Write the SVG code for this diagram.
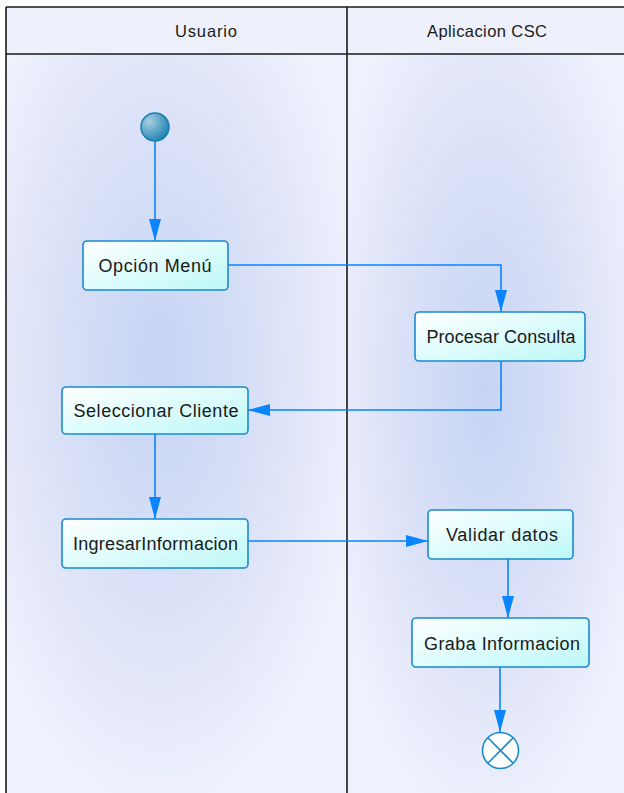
<svg xmlns="http://www.w3.org/2000/svg" width="624" height="793" viewBox="0 0 624 793">
  <style>
    .lbl { font-family: "Liberation Sans", Arial, sans-serif; font-size: 18px; fill: #1a1a1a; text-anchor: middle; }
    .hdr { font-size: 16.5px; }
    .act { fill: url(#actFill); stroke: #1a8acb; stroke-width: 1.6; }
    .flow { fill: none; stroke: #0a84ff; stroke-width: 1.6; }
    .lane { stroke: #1a1a1a; stroke-width: 1.6; fill: none; }
  </style>
  <defs>
    <linearGradient id="actFill" x1="0" y1="0" x2="1" y2="1">
      <stop offset="0" stop-color="#ffffff"/>
      <stop offset="1" stop-color="#bdf8f8"/>
    </linearGradient>
    <radialGradient id="laneL" cx="0.45" cy="0.42" r="0.6">
      <stop offset="0" stop-color="#c6d4f3"/>
      <stop offset="0.6" stop-color="#dde3f8"/>
      <stop offset="1" stop-color="#eff1fc"/>
    </radialGradient>
    <radialGradient id="laneR" cx="0.5" cy="0.45" r="0.6">
      <stop offset="0" stop-color="#c6d4f3"/>
      <stop offset="0.6" stop-color="#dde3f8"/>
      <stop offset="1" stop-color="#eff1fc"/>
    </radialGradient>
    <radialGradient id="startFill" cx="0.3" cy="0.3" r="0.8">
      <stop offset="0" stop-color="#a8cfe0"/>
      <stop offset="1" stop-color="#1a7fb0"/>
    </radialGradient>
    <marker id="arrow" viewBox="0 0 22 12" refX="22" refY="6" markerWidth="22" markerHeight="12" markerUnits="userSpaceOnUse" orient="auto">
      <path d="M0,0 L22,6 L0,12 Z" fill="#0a84ff"/>
    </marker>
  </defs>

  <!-- swimlanes -->
  <g id="lanes">
    <rect x="0" y="0" width="624" height="793" fill="#ffffff"/>
    <rect x="6" y="7" width="618" height="47" fill="#eef0fc"/>
    <rect x="6" y="54" width="341" height="739" fill="url(#laneL)"/>
    <rect x="347" y="54" width="277" height="739" fill="url(#laneR)"/>
    <line class="lane" x1="6" y1="7" x2="624" y2="7"/>
    <line class="lane" x1="6" y1="54" x2="624" y2="54"/>
    <line class="lane" x1="6" y1="7" x2="6" y2="793"/>
    <line class="lane" x1="347" y1="7" x2="347" y2="793"/>
    <text class="lbl hdr" x="206" y="37" textLength="62" lengthAdjust="spacing">Usuario</text>
    <text class="lbl hdr" x="487" y="37" textLength="120" lengthAdjust="spacing">Aplicacion CSC</text>
  </g>

  <!-- connectors -->
  <g id="connectors">
    <path class="flow" d="M155,141 L155,241" marker-end="url(#arrow)"/>
    <path class="flow" d="M228,265 L501,265 L501,312" marker-end="url(#arrow)"/>
    <path class="flow" d="M501,361 L501,410 L248,410" marker-end="url(#arrow)"/>
    <path class="flow" d="M155,434 L155,519" marker-end="url(#arrow)"/>
    <path class="flow" d="M248,541 L428,541" marker-end="url(#arrow)"/>
    <path class="flow" d="M508,559 L508,618" marker-end="url(#arrow)"/>
    <path class="flow" d="M500,667 L500,732" marker-end="url(#arrow)"/>
  </g>

  <!-- nodes -->
  <g id="start">
    <circle cx="155" cy="127" r="14" fill="url(#startFill)" stroke="#1a7fb0" stroke-width="1.5"/>
  </g>
  <g id="opcion-menu">
    <rect class="act" x="83" y="241" width="145" height="49" rx="4"/>
    <text class="lbl" x="155" y="272" textLength="113" lengthAdjust="spacing">Opción Menú</text>
  </g>
  <g id="procesar-consulta">
    <rect class="act" x="415" y="312" width="170" height="49" rx="4"/>
    <text class="lbl" x="501" y="343" textLength="149" lengthAdjust="spacing">Procesar Consulta</text>
  </g>
  <g id="seleccionar-cliente">
    <rect class="act" x="62" y="387" width="186" height="47" rx="4"/>
    <text class="lbl" x="156" y="417" textLength="165" lengthAdjust="spacing">Seleccionar Cliente</text>
  </g>
  <g id="ingresar-informacion">
    <rect class="act" x="62" y="519" width="186" height="49" rx="4"/>
    <text class="lbl" x="155.5" y="550" textLength="165" lengthAdjust="spacing">IngresarInformacion</text>
  </g>
  <g id="validar-datos">
    <rect class="act" x="428" y="510" width="145" height="49" rx="4"/>
    <text class="lbl" x="502" y="541" textLength="112" lengthAdjust="spacing">Validar datos</text>
  </g>
  <g id="graba-informacion">
    <rect class="act" x="412" y="618" width="177" height="49" rx="4"/>
    <text class="lbl" x="502" y="650" textLength="156" lengthAdjust="spacing">Graba Informacion</text>
  </g>
  <g id="final">
    <circle cx="500.5" cy="750.5" r="18" fill="#ffffff" stroke="#1a8acb" stroke-width="1.6"/>
    <path d="M487.8,737.8 L513.2,763.2 M513.2,737.8 L487.8,763.2" stroke="#1a8acb" stroke-width="1.6"/>
  </g>
</svg>
